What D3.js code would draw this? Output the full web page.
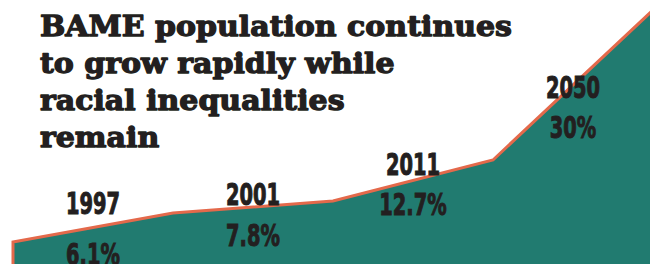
<!DOCTYPE html>
<html>
<head>
<meta charset="utf-8">
<script src="https://cdn.jsdelivr.net/npm/d3@7/dist/d3.min.js"></script>
<style>
	html, body { margin: 0; padding: 0; background: #fff; }
	svg { display: block; }
</style>
</head>
<body>
<div id="chart-area"></div>
<script>
/* Data */
const steps = [0, 1, 2, 3, 4]
// height of the outline at each step, % of chart height
const outline = [8.3, 19.3, 23.9, 39.4, 96.2]
const years = ['1997', '2001', '2011', '2050']
const shares = [6.1, 7.8, 12.7, 30]
const titleLines = ['BAME population continues', 'to grow rapidly while', 'racial inequalities', 'remain']

/* Canvas */
const CANVAS_WIDTH = 650
const CANVAS_HEIGHT = 264

const $svg = d3.select('#chart-area')
	.append('svg')
	.attr('width', CANVAS_WIDTH)
	.attr('height', CANVAS_HEIGHT)

/* Scales */
const xScale = d3.scaleLinear()
	.domain(d3.extent(steps))
	.range([13, 653])

const yScale = d3.scaleLinear()
	.domain([0, 100])
	.range([CANVAS_HEIGHT, 0])

/* Area */
const area = d3.area()
	.x(d => xScale(d))
	.y0(CANVAS_HEIGHT + 10)
	.y1((d, i) => yScale(outline[i]))

$svg.append('path')
	.datum(steps)
	.attr('d', area)
	.attr('fill', '#217b70')
	.attr('stroke', '#e4694b')
	.attr('stroke-width', 3)
	.attr('stroke-linejoin', 'miter')

/* Title */
const $title = $svg.append('g')
const $titleText = $title.append('text')
	.attr('font-family', 'DejaVu Serif, serif')
	.attr('font-weight', 'bold')
	.attr('font-size', 28.5)
	.attr('fill', '#231f20')
	.attr('stroke', '#231f20')
	.attr('stroke-width', 1.3)
	.attr('stroke-linejoin', 'round')

$titleText.selectAll('tspan')
	.data(titleLines)
	.enter()
	.append('tspan')
	.attr('x', 0)
	.attr('y', (d, i) => i * 37)
	.text(d => d)

// squeeze the title to the width of the original
const firstLine = $titleText.select('tspan').node().getComputedTextLength()
const titleScale = 472 / firstLine
$title.attr('transform', `translate(40, 36) scale(${titleScale}, 1)`)

/* Labels */
const yearY = [214, 205, 175, 98]
const shareY = [265, 246, 215, 138]

const $labels = $svg.append('g')
	.attr('font-family', 'Liberation Sans Narrow, DejaVu Sans Condensed, sans-serif')
	.attr('font-weight', 'bold')
	.attr('font-size', 31)
	.attr('fill', '#231f20')
	.attr('stroke', '#231f20')
	.attr('stroke-width', 1)
	.attr('text-anchor', 'middle')

const $years = $labels.selectAll('.year')
	.data(years)
	.enter()
	.append('text')
	.attr('class', 'year')
	.text(d => d)

const $shares = $labels.selectAll('.share')
	.data(shares)
	.enter()
	.append('text')
	.attr('class', 'share')
	.text(d => d + '%')

// condensed type: fit the four digit years to ~55px
const yearWidth = $years.node().getComputedTextLength()
const labelScale = 54 / yearWidth

$years.attr('transform', (d, i) => `translate(${xScale(i + 0.5)}, ${yearY[i]}) scale(${labelScale}, 1)`)
$shares.attr('transform', (d, i) => `translate(${xScale(i + 0.5)}, ${shareY[i]}) scale(${labelScale}, 1)`)
</script>
</body>
</html>
